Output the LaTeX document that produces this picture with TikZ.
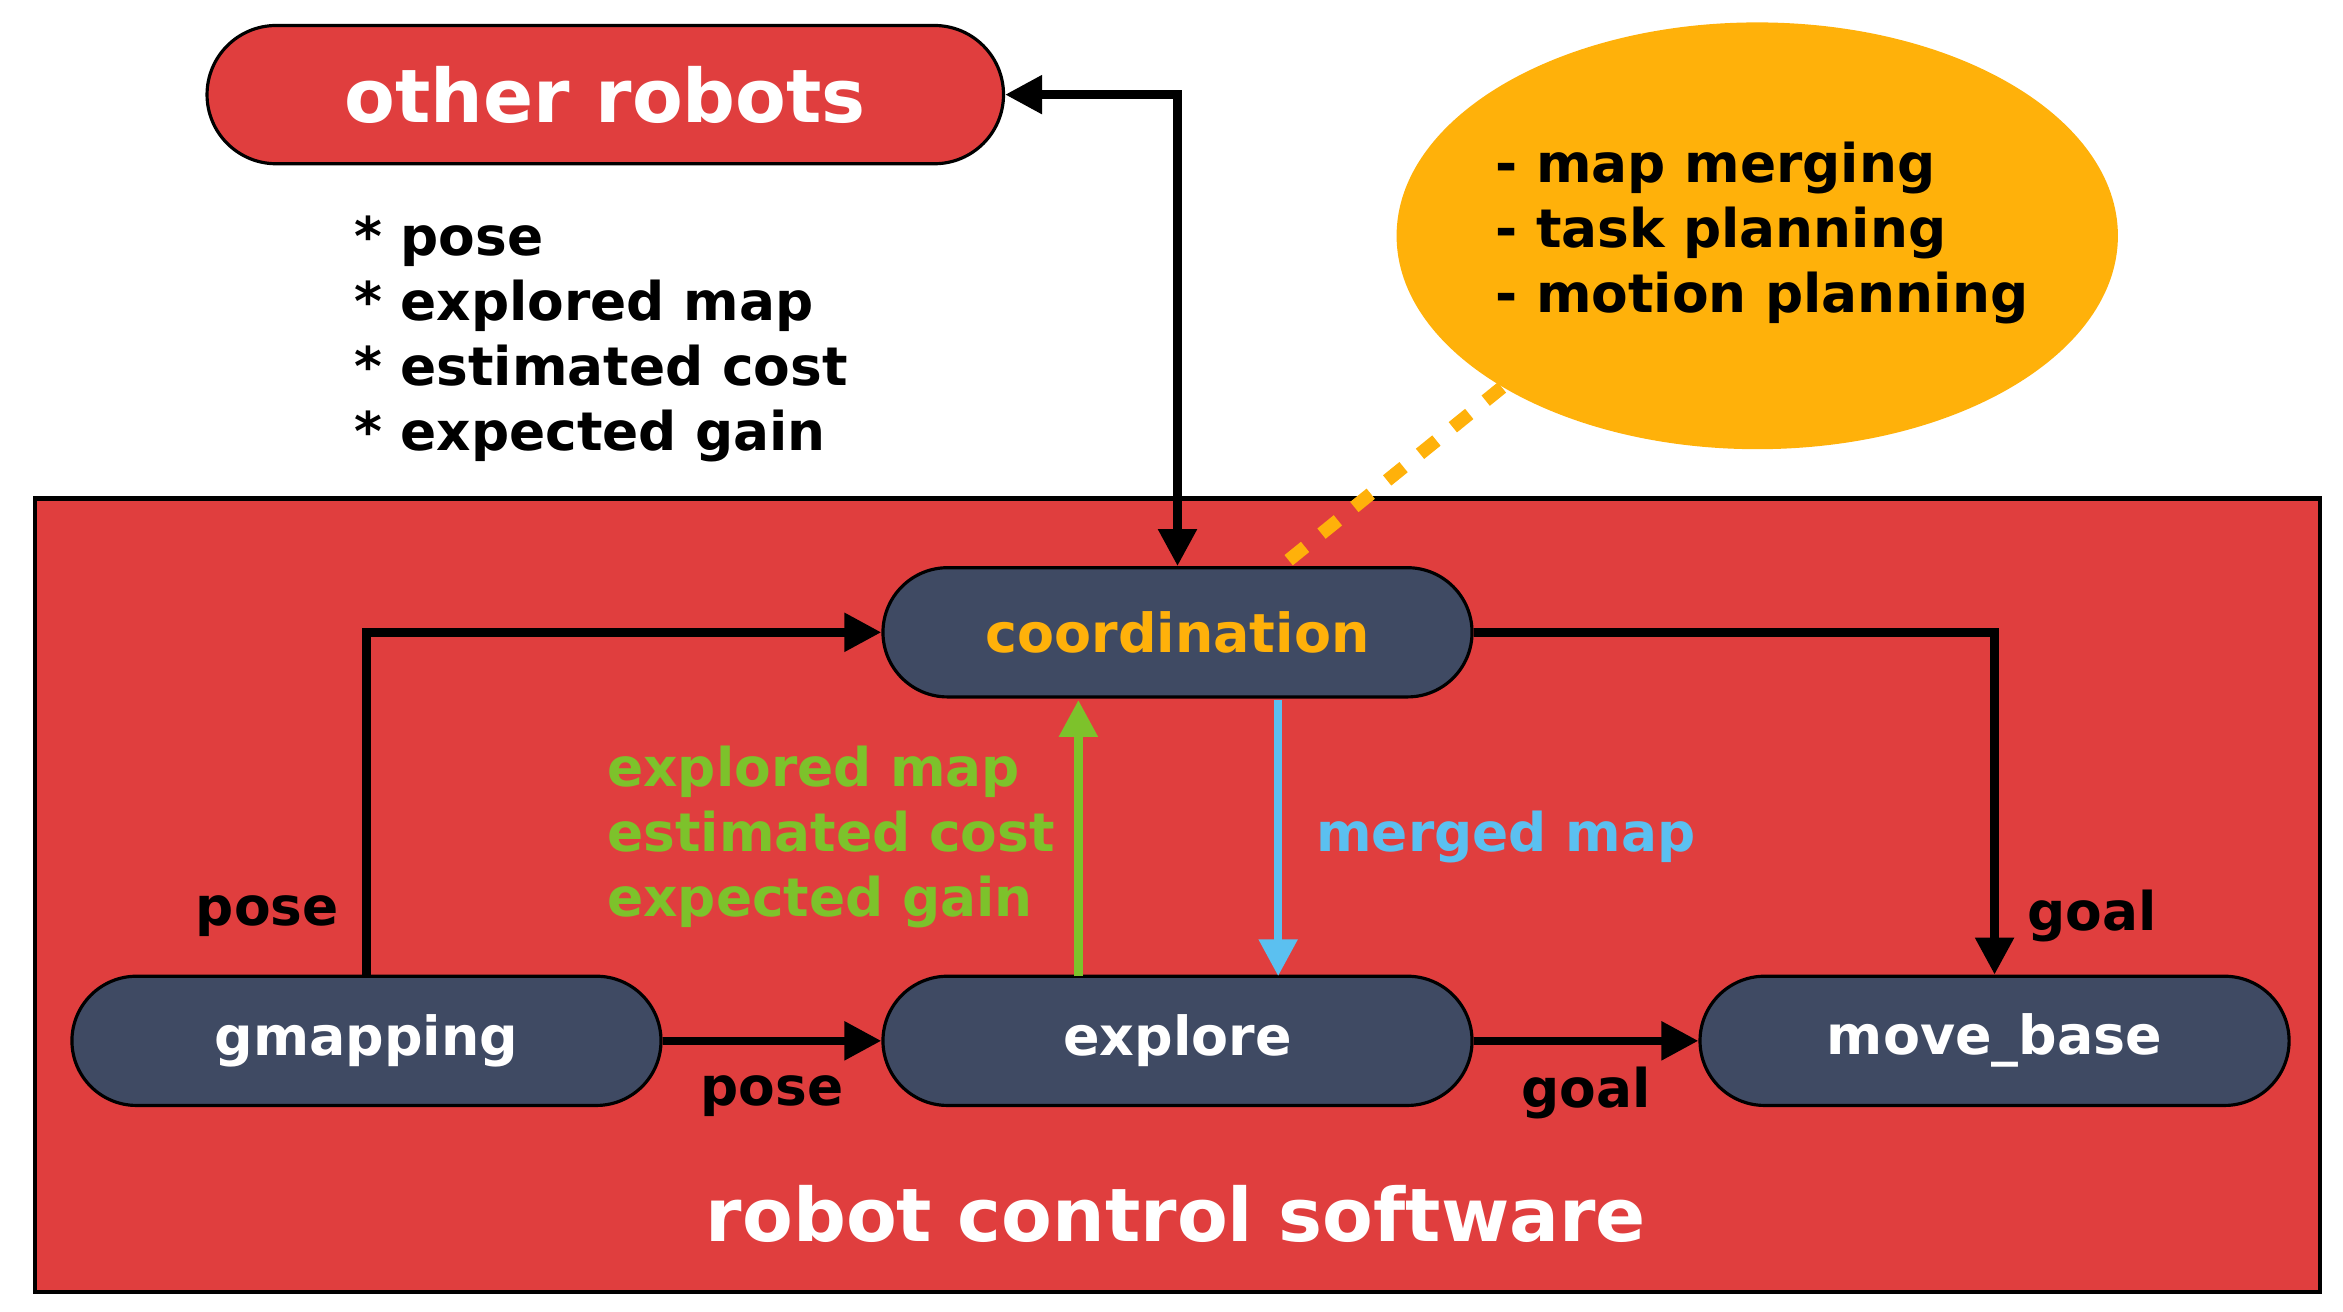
\documentclass[tikz,border=0pt]{standalone}
\usepackage{fontspec}
\setmainfont{DejaVu Sans}
\usetikzlibrary{shapes.geometric,arrows.meta}
\definecolor{rred}{HTML}{E03E3E}
\definecolor{nblue}{HTML}{3F4A63}
\definecolor{oor}{HTML}{FFB10A}
\definecolor{ggreen}{HTML}{7DC22B}
\definecolor{bblue}{HTML}{5BC0F0}
\begin{document}
\begin{tikzpicture}[x=0.01cm,y=-0.01cm,
  capsule/.style={draw=black,line width=0.6pt,fill=nblue,rounded corners=0.43cm,minimum width=3.92cm,minimum height=0.86cm,text=white,font=\fontsize{10.2}{12}\selectfont\bfseries},
  arr/.style={line width=1.6pt,-{Triangle[length=7pt,width=7pt]}},
  lab/.style={font=\fontsize{10.1}{12.3}\selectfont\bfseries}]
\useasboundingbox (0,0) rectangle (1560,873);
\node[draw=black,line width=0.8pt,fill=rred,minimum width=15.2cm,minimum height=5.28cm,inner sep=0] (box) at (784,596) {};
\node[draw=black,line width=0.6pt,fill=rred,minimum width=5.3cm,minimum height=0.92cm,rounded corners=0.46cm,text=white,font=\fontsize{14}{16}\selectfont\bfseries] (other) at (403,63) {other robots};
\node[ellipse,fill=oor,minimum width=4.8cm,minimum height=2.84cm] (oe) at (1170,157) {};
\node[lab,anchor=north west,align=left,inner sep=0] (otxt) at (995,94) {- map merging\\- task planning\\- motion planning};
\node[lab,anchor=north west,align=left,inner sep=0] (list) at (235,143) {* pose\\* explored map\\* estimated cost\\* expected gain};
\node[capsule,text=oor] (coord) at (784,421) {coordination};
\node[capsule] (gm) at (244,693) {gmapping};
\node[capsule] (ex) at (784,693) {explore};
\node[capsule] (mb) at (1328,693) {move\_base};
\node[text=white,font=\fontsize{14}{16}\selectfont\bfseries] (rcs) at (783,808) {robot control software};
\draw[line width=1.6pt,{Triangle[length=7pt,width=7pt]}-{Triangle[length=7pt,width=7pt]}] (other.east) -| (coord.north);
\draw[arr] (gm.north) |- (coord.west);
\draw[arr] (coord.east) -| (mb.north);
\draw[arr] (gm.east) -- (ex.west);
\draw[arr] (ex.east) -- (mb.west);
\coordinate (g1) at (718,650); \coordinate (g2) at (718,466);
\coordinate (b1) at (851,466); \coordinate (b2) at (851,650);
\draw[arr,draw=ggreen,-{Triangle[length=7pt,width=7pt,fill=ggreen]}] (g1) -- (g2);
\draw[arr,draw=bblue,-{Triangle[length=7pt,width=7pt,fill=bblue]}] (b1) -- (b2);
\coordinate (d1) at (858,373); \coordinate (d2) at (1000,258);
\draw[oor,line width=2.5pt,dash pattern=on 4pt off 4pt] (d1) -- (d2);
\node[lab] (p1) at (178,610) {pose};
\node[lab] (p2) at (514,730) {pose};
\node[lab] (q1) at (1056,728) {goal};
\node[lab] (q2) at (1393,610) {goal};
\node[lab,text=ggreen,anchor=west,align=left] (gt) at (392,557) {explored map\\estimated cost\\expected gain};
\node[lab,text=bblue,anchor=west] (mm) at (864,557) {merged map};
\end{tikzpicture}
\end{document}
